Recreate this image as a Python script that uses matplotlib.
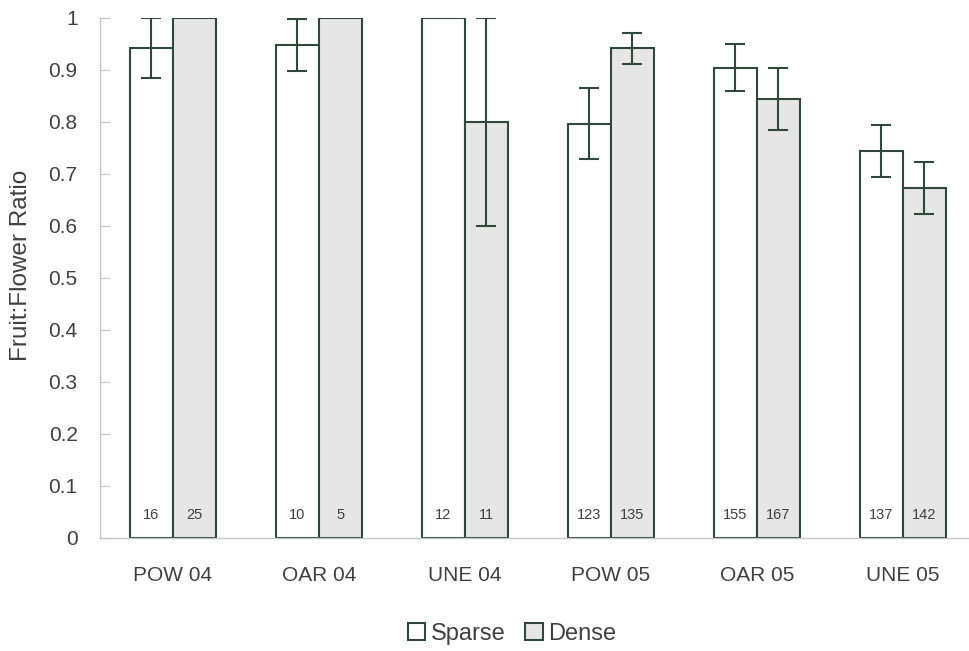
import matplotlib.pyplot as plt
import numpy as np

plt.rcParams['font.family'] = ['Liberation Sans', 'DejaVu Sans']

sites = ['POW 04', 'OAR 04', 'UNE 04', 'POW 05', 'OAR 05', 'UNE 05']
sparse = [0.942, 0.948, 1.0, 0.797, 0.904, 0.744]
sparse_err = [0.057, 0.05, 0, 0.068, 0.045, 0.05]
dense = [1.0, 1.0, 0.8, 0.942, 0.844, 0.673]
dense_err = [0, 0, 0.2, 0.03, 0.06, 0.05]
n_sparse = [16, 10, 12, 123, 155, 137]
n_dense = [25, 5, 11, 135, 167, 142]

edge = '#32473c'
txt = '#404040'
axis_col = '#c4c4c4'

fig = plt.figure(figsize=(9.7, 6.51), dpi=100)
ax = fig.add_axes([0.103, 0.1736, 0.897, 0.7988])

x = np.arange(len(sites))
w = 0.295
b1 = ax.bar(x - w/2, sparse, w, color='white', edgecolor=edge, linewidth=1.5, label='Sparse', zorder=2)
b2 = ax.bar(x + w/2, dense, w, color='#e6e6e6', edgecolor=edge, linewidth=1.5, label='Dense', zorder=2)

for xs, v, e in zip(x - w/2, sparse, sparse_err):
    if e > 0:
        ax.errorbar(xs, v, yerr=e, fmt='none', ecolor=edge, elinewidth=1.5, capsize=7.5, capthick=1.5, zorder=3)
for xs, v, e in zip(x + w/2, dense, dense_err):
    if e > 0:
        ax.errorbar(xs, v, yerr=e, fmt='none', ecolor=edge, elinewidth=1.5, capsize=7.5, capthick=1.5, zorder=3)

# sample sizes near the base of each bar
for i in range(len(sites)):
    ax.text(x[i] - w/2, 0.045, str(n_sparse[i]), ha='center', va='center', fontsize=10.5, color=txt, zorder=4)
    ax.text(x[i] + w/2, 0.045, str(n_dense[i]), ha='center', va='center', fontsize=10.5, color=txt, zorder=4)

ax.set_xlim(-0.5, 5.46)
ax.set_ylim(0, 1)
ax.set_yticks(np.arange(0, 1.01, 0.1))
ax.set_yticklabels(['0', '0.1', '0.2', '0.3', '0.4', '0.5', '0.6', '0.7', '0.8', '0.9', '1'])
ax.set_xticks(x)
ax.set_xticklabels(sites)
ax.tick_params(axis='y', direction='in', length=7, color=axis_col, labelsize=15, labelcolor=txt, pad=16)
ax.tick_params(axis='x', length=0, labelsize=15, labelcolor=txt, pad=20)

for s in ['top', 'right']:
    ax.spines[s].set_visible(False)
ax.spines['left'].set_color(axis_col)
ax.spines['bottom'].set_color(axis_col)
ax.spines['left'].set_linewidth(1)
ax.spines['bottom'].set_linewidth(1)

ax.set_ylabel('Fruit:Flower Ratio', fontsize=17.5, color=txt)
ax.yaxis.set_label_coords(-0.078, 0.525)

fig.legend(handles=[b1, b2], loc='center', bbox_to_anchor=(0.528, 0.026), ncol=2, frameon=False,
           fontsize=17, handlelength=0.75, handleheight=0.75, handletextpad=0.25, columnspacing=0.8,
           labelcolor=txt)

fig.savefig('out.png', dpi=100)
